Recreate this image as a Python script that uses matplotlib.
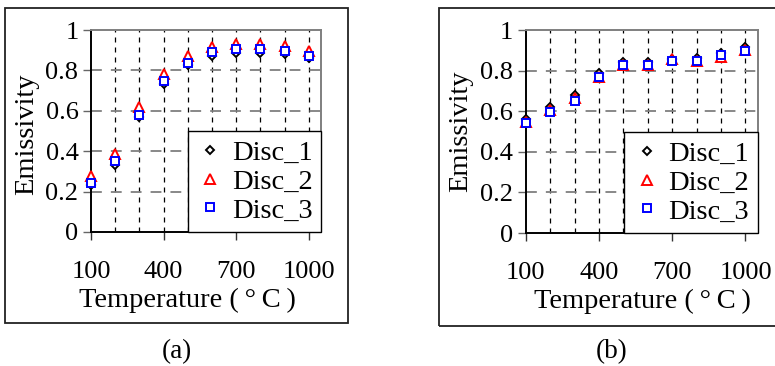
import numpy as np
import matplotlib
matplotlib.use('Agg')
import matplotlib.pyplot as plt
from matplotlib.patches import Rectangle

plt.rcParams['font.family'] = ['Liberation Serif', 'DejaVu Serif']

# Temperaturas (C)
temperaturas = [100, 200, 300, 400, 500, 600, 700, 800, 900, 1000]

# (a)
a_disc1 = [0.231, 0.330, 0.567, 0.732, 0.826, 0.871, 0.888, 0.888, 0.879, 0.860]
a_disc2 = [0.276, 0.388, 0.617, 0.782, 0.871, 0.914, 0.930, 0.930, 0.922, 0.898]
a_disc3 = [0.245, 0.352, 0.579, 0.747, 0.838, 0.889, 0.906, 0.906, 0.896, 0.873]

# (b)
b_disc1 = [0.561, 0.623, 0.680, 0.787, 0.844, 0.844, 0.856, 0.864, 0.885, 0.918]
b_disc2 = [0.545, 0.605, 0.665, 0.770, 0.830, 0.830, 0.855, 0.845, 0.865, 0.900]
b_disc3 = [0.540, 0.595, 0.652, 0.770, 0.828, 0.828, 0.849, 0.849, 0.877, 0.898]

etiquetas_x = [100, 400, 700, 1000]
etiquetas_y = [0, 0.2, 0.4, 0.6, 0.8, 1]
series = ['Disc_1', 'Disc_2', 'Disc_3']
marcadores = ['D', '^', 's']
colores = ['black', 'red', 'blue']
tamanos = [4.3, 6.5, 5.5]

FS = 20.5
FS_TICK = 19
W, H = 775, 366
fig = plt.figure(figsize=(W / 100, H / 100), dpi=100)


def px_axes(x0, x1, y_top, y_bot):
    return [x0 / W, (H - y_bot) / H, (x1 - x0) / W, (y_bot - y_top) / H]


def panel(rect, datos, caja, xlabel_pos, ylabel_pos, letra, letra_pos):
    ax = fig.add_axes(rect)
    for d, m, c, ms, nombre in zip(datos, marcadores, colores, tamanos, series):
        ax.plot(temperaturas, d, linestyle='none', marker=m, markersize=ms,
                markerfacecolor='white', markeredgecolor=c, markeredgewidth=1.4,
                label=nombre, zorder=3, clip_on=False)
    ax.set_xlim(100, 1050)
    ax.set_ylim(0, 1)
    ax.set_xticks(etiquetas_x)
    ax.set_xticklabels([str(v) for v in etiquetas_x], fontsize=FS_TICK)
    ax.set_yticks(etiquetas_y)
    ax.set_yticklabels(['0', '0.2', '0.4', '0.6', '0.8', '1'], fontsize=FS_TICK)
    ax.tick_params(axis='x', length=6, width=1, color='#333333', pad=15)
    ax.tick_params(axis='y', length=6, width=1, color='#666666', pad=3)

    # rejilla
    for t in temperaturas[1:]:
        ax.axvline(t, color='black', lw=0.9, dashes=(4, 4), zorder=1)
    for v in etiquetas_y[1:-1]:
        ax.axhline(v, color='#7f7f7f', lw=1.3, dashes=(6, 5), zorder=1)

    ax.spines['left'].set_color('black')
    ax.spines['bottom'].set_color('black')
    ax.spines['top'].set_color('#7f7f7f')
    ax.spines['right'].set_color('#7f7f7f')
    for s in ax.spines.values():
        s.set_linewidth(1.4)

    leg = ax.legend(loc='lower right', bbox_to_anchor=(1, 0), borderaxespad=0,
                    fontsize=FS, frameon=True, fancybox=False, framealpha=1,
                    edgecolor='black', handletextpad=0.25, handlelength=1.0,
                    borderpad=0.3, labelspacing=0.1)
    leg.get_frame().set_linewidth(1.0)
    leg.set_zorder(5)

    fig.text(xlabel_pos[0] / W, 1 - xlabel_pos[1] / H, 'Temperature (\u2009°\u2009C\u2009)',
             fontsize=FS, ha='center', va='center')
    fig.text(ylabel_pos[0] / W, 1 - ylabel_pos[1] / H, 'Emissivity',
             fontsize=FS, ha='center', va='center', rotation=90)
    fig.text(letra_pos[0] / W, 1 - letra_pos[1] / H, letra,
             fontsize=FS - 1, ha='center', va='center')
    fig.patches.append(Rectangle((caja[0] / W, 1 - caja[3] / H),
                                 (caja[2] - caja[0]) / W, (caja[3] - caja[1]) / H,
                                 transform=fig.transFigure, fill=False,
                                 edgecolor='#222222', lw=1.3))
    return ax


panel(px_axes(91, 321, 30, 232), [a_disc1, a_disc2, a_disc3],
      (5, 8, 348, 323), (187, 300), (27, 134), '(a)', (177, 352))
panel(px_axes(525.7, 757.7, 30, 233), [b_disc1, b_disc2, b_disc3],
      (439, 8, 800, 325.5), (642, 301), (461, 131), '(b)', (612, 352))

fig.savefig('out.png', dpi=100)
